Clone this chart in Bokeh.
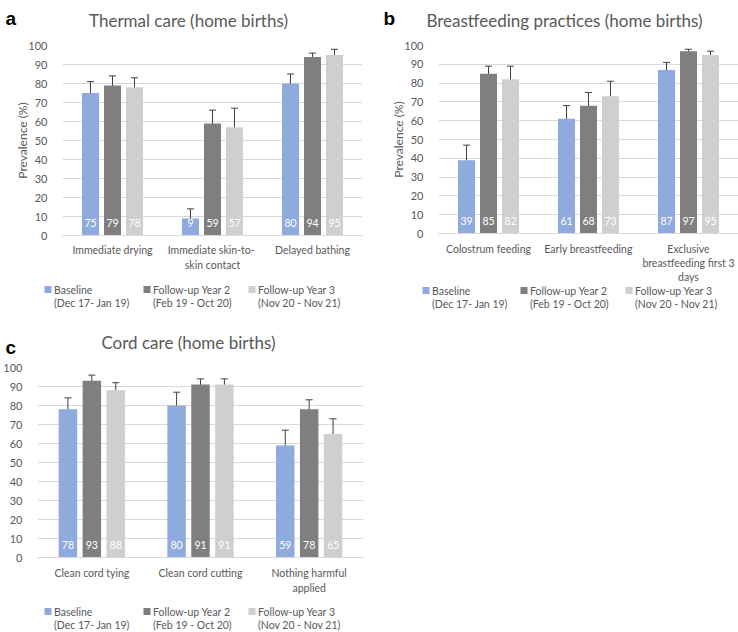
from bokeh.plotting import figure
from bokeh.models import (FactorRange, Range1d, Whisker, TeeHead, ColumnDataSource,
                          FixedTicker)
from bokeh.transform import dodge
from bokeh.layouts import row, column
from bokeh.embed import file_html
from bokeh.resources import INLINE
from bokeh.core.properties import value

# ---------------- data ----------------
series_names = ["Baseline\n(Dec 17- Jan 19)",
                "Follow-up Year 2\n(Feb 19 - Oct 20)",
                "Follow-up Year 3\n(Nov 20 - Nov 21)"]
yticks = [0, 10, 20, 30, 40, 50, 60, 70, 80, 90, 100]

# a) Thermal care
thermal_title = "Thermal care (home births)"
thermal_cats = ["Immediate drying", "Immediate  skin-to-\nskin contact", "Delayed bathing"]
thermal_base = [75, 9, 80]
thermal_base_lo = [67, 5, 75]
thermal_base_hi = [81, 14, 85]
thermal_y2 = [79, 59, 94]
thermal_y2_lo = [73, 52, 91]
thermal_y2_hi = [84, 66, 96]
thermal_y3 = [78, 57, 95]
thermal_y3_lo = [71, 46, 92]
thermal_y3_hi = [83, 67, 98]

# b) Breastfeeding practices
bf_title = "Breastfeeding practices (home births)"
bf_cats = ["Colostrum feeding", "Early breastfeeding", "Exclusive\nbreastfeeding first 3\ndays"]
bf_base = [39, 61, 87]
bf_base_lo = [32, 53, 81]
bf_base_hi = [47, 68, 91]
bf_y2 = [85, 68, 97]
bf_y2_lo = [79, 61, 94]
bf_y2_hi = [89, 75, 98]
bf_y3 = [82, 73, 95]
bf_y3_lo = [72, 63, 91]
bf_y3_hi = [89, 81, 97]

# c) Cord care
cord_title = "Cord care (home births)"
cord_cats = ["Clean cord tying", "Clean cord cutting", "Nothing harmful\napplied"]
cord_base = [78, 80, 59]
cord_base_lo = [71, 72, 52]
cord_base_hi = [84, 87, 67]
cord_y2 = [93, 91, 78]
cord_y2_lo = [90, 87, 73]
cord_y2_hi = [96, 94, 83]
cord_y3 = [88, 91, 65]
cord_y3_lo = [83, 85, 55]
cord_y3_hi = [92, 94, 73]

# ---------------- style ----------------
FONT = "Lato"
TXT = "#595959"
COLORS = ["#8FAADC", "#7F7F7F", "#D0CECE"]
OFFSETS = [-0.22, 0.0, 0.22]
ERR = "#404040"


def blank(width, height):
    p = figure(width=width, height=height, x_range=Range1d(0, width),
               y_range=Range1d(height, 0), x_axis_type=None, y_axis_type=None,
               output_backend="svg", toolbar_location=None, min_border=0,
               frame_align=False)
    p.outline_line_color = None
    p.grid.visible = False
    return p


def title_fig(width, height, letter, title, letter_xy, title_xy):
    p = blank(width, height)
    p.text(x=[title_xy[0]], y=[title_xy[1]], text=[title], text_align="center",
           text_baseline="middle", text_color=TXT, text_font=value(FONT),
           text_font_size="17px")
    p.text(x=[letter_xy[0]], y=[letter_xy[1]], text=[letter], text_align="left",
           text_baseline="alphabetic", text_color="black",
           text_font=value("Liberation Sans"), text_font_style="bold",
           text_font_size="19px")
    return p


def legend_fig(width, height, xs, y1, y2):
    p = blank(width, height)
    line1 = [s.split("\n")[0] for s in series_names]
    line2 = [s.split("\n")[1] for s in series_names]
    src = ColumnDataSource(dict(
        sx=[x + 3.5 for x in xs], tx=[x + 9.5 for x in xs],
        y1=[y1] * 3, y2=[y2] * 3, color=COLORS, line1=line1, line2=line2))
    p.rect(x="sx", y="y1", width=7, height=7, fill_color="color", line_color=None,
           source=src)
    for col, ycol in (("line1", "y1"), ("line2", "y2")):
        p.text(x="tx", y=ycol, text=col, source=src, text_align="left",
               text_baseline="middle", text_color=TXT, text_font=value(FONT),
               text_font_size="10.5px")
    return p


def chart(cats, vals, los, his, width, height, bl, br, bt, bb, ylabel,
          x_standoff, x_line_height):
    p = figure(x_range=FactorRange(factors=cats, range_padding=0),
               y_range=Range1d(0, 100), width=width, height=height,
               output_backend="svg", toolbar_location=None,
               min_border_left=bl, min_border_right=br,
               min_border_top=bt, min_border_bottom=bb, frame_align=False)
    p.outline_line_color = None

    data = {"cat": cats}
    for i in range(3):
        data[f"v{i}"] = vals[i]
        data[f"lo{i}"] = los[i]
        data[f"hi{i}"] = his[i]
        data[f"t{i}"] = [str(v) for v in vals[i]]
    src = ColumnDataSource(data)

    for i in range(3):
        p.vbar(x=dodge("cat", OFFSETS[i], range=p.x_range), top=f"v{i}",
               width=0.17, source=src, fill_color=COLORS[i], line_color=None)
        p.add_layout(Whisker(source=src, base=dodge("cat", OFFSETS[i], range=p.x_range),
                             upper=f"hi{i}", lower=f"lo{i}", line_color=ERR, line_width=1,
                             upper_head=TeeHead(size=7, line_color=ERR, line_width=1),
                             lower_head=TeeHead(size=7, line_color=ERR, line_width=1)))
        p.text(x=dodge("cat", OFFSETS[i], range=p.x_range), y=6.5, text=f"t{i}",
               source=src, text_align="center", text_baseline="middle",
               text_color="white", text_font=value(FONT), text_font_size="10.5px")

    p.yaxis.ticker = FixedTicker(ticks=yticks)
    p.yaxis.axis_line_color = None
    p.yaxis.major_tick_line_color = None
    p.yaxis.minor_tick_line_color = None
    p.yaxis.major_label_standoff = 9
    p.yaxis.major_label_text_font = FONT
    p.yaxis.major_label_text_font_size = "11px"
    p.yaxis.major_label_text_color = TXT
    if ylabel:
        p.yaxis.axis_label = ylabel
        p.yaxis.axis_label_text_font = FONT
        p.yaxis.axis_label_text_font_style = "normal"
        p.yaxis.axis_label_text_font_size = "12px"
        p.yaxis.axis_label_text_color = TXT
        p.yaxis.axis_label_standoff = -5

    p.xaxis.axis_line_color = "#D9D9D9"
    p.xaxis.major_tick_line_color = None
    p.xaxis.minor_tick_line_color = None
    p.xaxis.major_label_standoff = x_standoff
    p.xaxis.major_label_text_font = FONT
    p.xaxis.major_label_text_font_size = "10.5px"
    p.xaxis.major_label_text_line_height = x_line_height
    p.xaxis.major_label_text_color = TXT

    p.xgrid.grid_line_color = None
    p.ygrid.grid_line_color = "#D9D9D9"
    return p


# panel a
ta = title_fig(370, 38, "a", thermal_title, (5, 18), (188, 20))
ca = chart(thermal_cats, [thermal_base, thermal_y2, thermal_y3],
           [thermal_base_lo, thermal_y2_lo, thermal_y3_lo],
           [thermal_base_hi, thermal_y2_hi, thermal_y3_hi],
           370, 244, 62, 8, 7, 47, "Prevalence (%)", 2, 1.3)
la = legend_fig(370, 28, (44, 143, 248), 7, 20)

# panel b
tb = title_fig(368, 38, "b", bf_title, (13, 18), (194, 20))
cb = chart(bf_cats, [bf_base, bf_y2, bf_y3],
           [bf_base_lo, bf_y2_lo, bf_y3_lo],
           [bf_base_hi, bf_y2_hi, bf_y3_hi],
           368, 248, 68, 0, 7, 51, "Prevalence (%)", 3, 1.2)
lb = legend_fig(368, 24, (52, 150, 255), 4, 17)

# panel c
tc = title_fig(370, 50, "c", cord_title, (5, 37), (188, 32))
cc = chart(cord_cats, [cord_base, cord_y2, cord_y3],
           [cord_base_lo, cord_y2_lo, cord_y3_lo],
           [cord_base_hi, cord_y2_hi, cord_y3_hi],
           370, 237, 33, 7, 7, 40, None, 3, 1.3)
lc = legend_fig(370, 35, (44, 143, 248), 14, 27)

layout = column(row(column(ta, ca, la), column(tb, cb, lb)), column(tc, cc, lc))
open("out.html", "w").write(file_html(layout, INLINE))
